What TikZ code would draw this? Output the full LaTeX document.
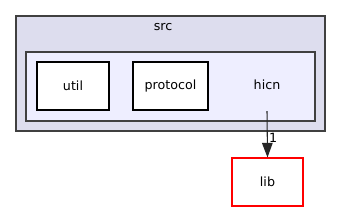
\documentclass[tikz,border=0pt]{standalone}
\usepackage{fontspec}
\setmainfont{DejaVu Sans}
\usetikzlibrary{arrows.meta}
\definecolor{srcfill}{RGB}{221,221,238}
\definecolor{hicnfill}{RGB}{238,238,255}
\definecolor{edgegrey}{RGB}{64,64,64}
\tikzset{
  dirbox/.style={draw=edgegrey, thick},
  leafbox/.style={draw=black, fill=white, thick},
  deparrow/.style={-{Triangle[length=11pt,width=8pt]}, thick, black!85}
}

\begin{document}
\begin{tikzpicture}[x=0.75pt, y=-0.75pt, font=\fontsize{9.5}{11}\selectfont]

    \useasboundingbox (0,0) rectangle (341,212);

    % Cluster boxes
    \draw[dirbox, fill=srcfill]  (16,16) rectangle (325,131);
    \draw[dirbox, fill=hicnfill] (26,52) rectangle (315,121);

    % Cluster labels
    \node (src) at (163,27) {src};
    \node (hicn) at (267,85) {hicn};
    \coordinate (hicnout) at (267,111);

    % Sub-directories
    \draw[leafbox] (37,62) rectangle (109,110);
    \node (util) at (73,86) {util};
    \draw[leafbox] (133,62) rectangle (208,110);
    \node (protocol) at (170.5,86) {protocol};

    % External dependency
    \node[draw=red, thick, minimum width=53.25pt, minimum height=36pt]
      (lib) at (267.5,182) {lib};

    % Dependency edge
    \draw[deparrow] (hicnout) -- (lib.north)
      node[pos=0.58, right, inner sep=1pt, black] {1};

\end{tikzpicture}
\end{document}
